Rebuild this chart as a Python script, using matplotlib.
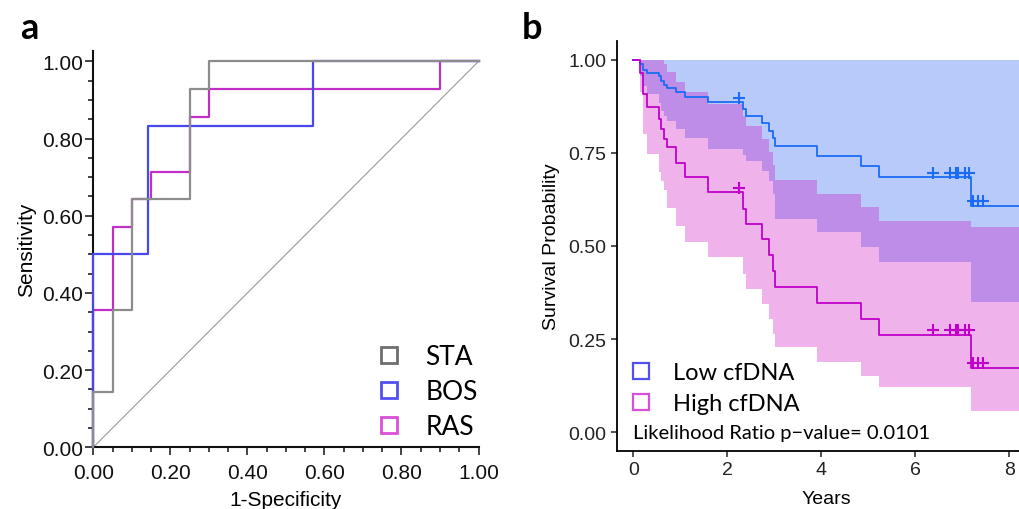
import numpy as np
import matplotlib
matplotlib.use("Agg")
import matplotlib.pyplot as plt
from matplotlib.lines import Line2D
from matplotlib.ticker import MultipleLocator, FormatStrFormatter
import matplotlib.transforms as mtransforms

plt.rcParams['font.family'] = ['Liberation Sans', 'DejaVu Sans']

# ---- panel a: ROC curves ----
sta_fpr = [0, 0, 0.05, 0.05, 0.10, 0.10, 0.25, 0.25, 0.30, 0.30, 1.0]
sta_tpr = [0, 0.143, 0.143, 0.357, 0.357, 0.643, 0.643, 0.929, 0.929, 1.0, 1.0]
bos_fpr = [0, 0, 0.143, 0.143, 0.571, 0.571, 1.0]
bos_tpr = [0, 0.5, 0.5, 0.833, 0.833, 1.0, 1.0]
ras_fpr = [0, 0, 0.05, 0.05, 0.10, 0.10, 0.15, 0.15, 0.25, 0.25, 0.30, 0.30, 0.90, 0.90, 1.0]
ras_tpr = [0, 0.357, 0.357, 0.571, 0.571, 0.643, 0.643, 0.714, 0.714, 0.857, 0.857, 0.929, 0.929, 1.0, 1.0]

# ---- panel b: survival curves ----
times = [0, 0.14, 0.20, 0.30, 0.54, 0.60, 0.66, 0.71, 0.90, 1.10, 1.58, 2.34, 2.39,
         2.73, 2.88, 2.98, 3.02, 3.92, 4.84, 5.24, 7.18]
low_surv = [1.0, 0.988, 0.973, 0.964, 0.955, 0.944, 0.932, 0.923, 0.912, 0.899, 0.886,
            0.868, 0.850, 0.830, 0.809, 0.789, 0.767, 0.742, 0.714, 0.684, 0.608]
low_lower = [1.0, 0.955, 0.930, 0.908, 0.885, 0.863, 0.850, 0.836, 0.814, 0.789, 0.760,
             0.745, 0.729, 0.702, 0.675, 0.640, 0.573, 0.537, 0.497, 0.458, 0.351]
low_upper = [1.0] * 21
high_surv = [1.0, 0.965, 0.908, 0.872, 0.841, 0.815, 0.787, 0.765, 0.723, 0.684, 0.644,
             0.599, 0.559, 0.519, 0.476, 0.434, 0.389, 0.347, 0.304, 0.262, 0.174]
high_lower = [1.0, 0.912, 0.800, 0.747, 0.698, 0.675, 0.649, 0.601, 0.555, 0.512, 0.470,
              0.425, 0.385, 0.344, 0.304, 0.264, 0.228, 0.188, 0.152, 0.121, 0.057]
high_upper = [1.0, 1.0, 1.0, 1.0, 1.0, 1.0, 0.988, 0.966, 0.939, 0.912, 0.881,
              0.850, 0.821, 0.787, 0.752, 0.716, 0.678, 0.640, 0.604, 0.568, 0.550]
followup_end = 8.6
censor_times = [2.24, 6.37, 6.74, 6.86, 6.92, 7.06, 7.15, 7.24, 7.33, 7.44]
p_text = "Likelihood Ratio p\u2212value= 0.0101"

W, H = 1019, 510
fig = plt.figure(figsize=(W / 100, H / 100), dpi=100)

def px_axes(x0, y0, x1, y1):
    return fig.add_axes([x0 / W, 1 - y1 / H, (x1 - x0) / W, (y1 - y0) / H])

# ================= panel a =================
ax = px_axes(93.3, 52, 478.5, 448.3)
ax.plot([0, 1], [0, 1], color='#9a9a9a', lw=0.8, zorder=1)
ax.plot(ras_fpr, ras_tpr, color='#c030c8', lw=1.6, zorder=2, clip_on=False)
ax.plot(bos_fpr, bos_tpr, color='#4848ee', lw=1.6, zorder=3, clip_on=False)
ax.plot(sta_fpr, sta_tpr, color='#8c8c8c', lw=1.6, zorder=4, clip_on=False)
ax.set_xlim(0, 1)
ax.set_ylim(0, 1.027)
for s in ['top', 'right']:
    ax.spines[s].set_visible(False)
for s in ['left', 'bottom']:
    ax.spines[s].set_linewidth(1.5)
    ax.spines[s].set_color('#111111')
ax.set_xticks(np.arange(0, 1.01, 0.2))
ax.set_yticks(np.arange(0, 1.01, 0.2))
ax.xaxis.set_minor_locator(MultipleLocator(0.05))
ax.yaxis.set_minor_locator(MultipleLocator(0.05))
ax.xaxis.set_major_formatter(FormatStrFormatter('%.2f'))
ax.yaxis.set_major_formatter(FormatStrFormatter('%.2f'))
ax.tick_params(which='major', length=6, width=1.1, labelsize=15, colors='#111111')
ax.tick_params(which='minor', length=3.5, width=1.1, colors='#111111')
ax.tick_params(axis='y', which='major', pad=1.5)
ax.tick_params(axis='x', which='major', pad=5)
ax.set_xlabel('1-Specificity', fontsize=15, labelpad=6)
ax.set_ylabel('Sensitivity', fontsize=15, labelpad=4)

handles_a = [Line2D([], [], ls='none', marker='s', ms=12, mfc='none', mew=2, mec=c)
             for c in ['#6e6e6e', '#5050f0', '#d850d8']]
ax.legend(handles_a, ['STA', 'BOS', 'RAS'], loc='lower left', frameon=False,
          bbox_to_anchor=(0.733, 0.02), borderpad=0, borderaxespad=0,
          handlelength=1.0, handletextpad=0.88, labelspacing=0.39,
          prop={'family': 'Lato', 'size': 19})

fig.text(20 / W, 1 - 39 / H, 'a', fontsize=26, fontweight='bold', family='Lato')

# ================= panel b =================
bx = px_axes(617, 42, 1035, 452)
t = np.array(times + [followup_end])
def ext(v):
    return np.array(v + [v[-1]])

bx.fill_between(t, ext(low_lower), ext(low_upper), step='post', color='#1252ee',
                alpha=0.3, lw=0)
bx.fill_between(t, ext(high_lower), ext(high_upper), step='post', color='#cd00c0',
                alpha=0.3, lw=0)
bx.step(t, ext(low_surv), where='post', color='#1a6cf5', lw=1.3)
bx.step(t, ext(high_surv), where='post', color='#c000c8', lw=1.3)

off = mtransforms.offset_copy(bx.transData, fig=fig, x=0, y=4.5, units='dots')
low_c = [low_surv[np.searchsorted(times, c, side='right') - 1] for c in censor_times]
high_c = [high_surv[np.searchsorted(times, c, side='right') - 1] for c in censor_times]
bx.plot(censor_times, low_c, ls='none', marker='+', ms=8, mew=1.5, color='#1a6cf5',
        transform=off)
bx.plot(censor_times, high_c, ls='none', marker='+', ms=8, mew=1.5, color='#c000c8',
        transform=off)

bx.set_xlim(-0.347, 8.55)
bx.set_ylim(-0.05, 1.05)
for s in ['top', 'right']:
    bx.spines[s].set_visible(False)
for s in ['left', 'bottom']:
    bx.spines[s].set_linewidth(1.3)
    bx.spines[s].set_color('black')
bx.set_xticks([0, 2, 4, 6, 8])
bx.set_yticks([0, 0.25, 0.5, 0.75, 1.0])
bx.yaxis.set_major_formatter(FormatStrFormatter('%.2f'))
bx.tick_params(length=4, width=1.1, labelsize=14, colors='#222222', pad=3.5)
bx.set_xlabel('Years', fontsize=14, labelpad=8)
bx.set_ylabel('Survival Probability', fontsize=14, labelpad=6)

handles_b = [Line2D([], [], ls='none', marker='s', ms=11.5, mfc='none', mew=1.6, mec=c)
             for c in ['#5050f0', '#d850d8']]
bx.legend(handles_b, ['Low cfDNA', 'High cfDNA'], loc='lower left', frameon=False,
          bbox_to_anchor=(0.0285, 0.090), borderpad=0, borderaxespad=0,
          handlelength=1.0, handletextpad=0.87, labelspacing=0.41,
          prop={'family': 'Lato', 'size': 17})
bx.text(0.0, 0.0, p_text, fontsize=14.5, family='Lato', va='center', ha='left',
        transform=bx.transData)

fig.text(522 / W, 1 - 39 / H, 'b', fontsize=26, fontweight='bold', family='Lato')

fig.savefig('out.png', dpi=100)
